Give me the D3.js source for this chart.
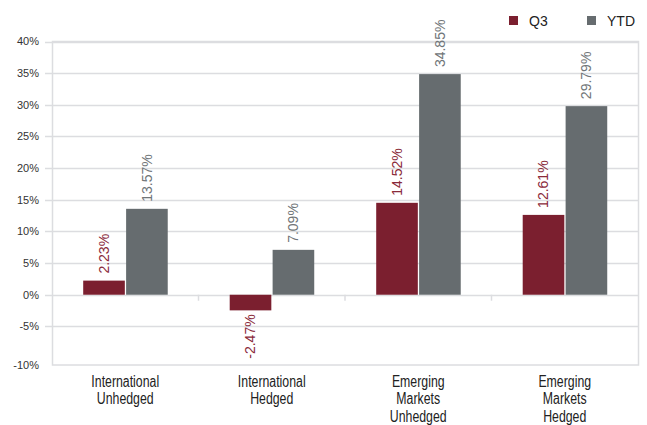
<!DOCTYPE html>
<html>
<head>
<meta charset="utf-8">
<script src="https://cdn.jsdelivr.net/npm/d3@7"></script>
<style>
  body { margin: 0; background: #fff; }
  text { font-family: "Liberation Sans", Arial, sans-serif; }
</style>
</head>
<body>
<div id="chart"></div>
<script>
// data
const categories = [
    ["International", "Unhedged"],
    ["International", "Hedged"],
    ["Emerging", "Markets", "Unhedged"],
    ["Emerging", "Markets", "Hedged"]
];
const series = ["Q3", "YTD"];
const q3Values = [2.23, -2.47, 14.52, 12.61];
const ytdValues = [13.57, 7.09, 34.85, 29.79];
const yTicks = [40, 35, 30, 25, 20, 15, 10, 5, 0, -5, -10];

const width = 647, height = 425;
const plot = { left: 52, right: 638, top: 41.5, bottom: 365 };
const colors = { Q3: "#7b1f2f", YTD: "#666c6f" };
const labelColors = { Q3: "#8a2a3a", YTD: "#707578" };
const gridColor = "#dcdde0";

const svg = d3.select("#chart")
    .append("svg")
    .attr("width", width)
    .attr("height", height);

const x0 = d3.scaleBand()
    .domain(categories.map((d, i) => i))
    .range([plot.left, plot.right]);

const bw = x0.bandwidth();
const x1 = d3.scaleBand()
    .domain(series)
    .range([bw * 0.213, bw * 0.79])
    .paddingInner(0.03);

const y = d3.scaleLinear()
    .domain([-11.1, 40])
    .range([plot.bottom, plot.top]);

// lowest label sits on the plot's bottom edge, like the original
const tickY = (d) => (d === d3.min(yTicks) ? plot.bottom : y(d));

// gridlines
svg.append("g")
    .selectAll("line")
    .data(yTicks.filter(d => d !== d3.min(yTicks)))
    .join("line")
    .attr("x1", plot.left - 7)
    .attr("x2", plot.right)
    .attr("y1", d => Math.round(y(d)) + 0.5)
    .attr("y2", d => Math.round(y(d)) + 0.5)
    .attr("stroke", gridColor)
    .attr("stroke-width", 1.5);

// plot border
svg.append("rect")
    .attr("x", plot.left + 0.5)
    .attr("y", plot.top)
    .attr("width", plot.right - plot.left)
    .attr("height", plot.bottom - plot.top)
    .attr("fill", "none")
    .attr("stroke", gridColor)
    .attr("stroke-width", 1.5);

// y tick labels
svg.append("g")
    .selectAll("text")
    .data(yTicks)
    .join("text")
    .attr("x", 39)
    .attr("y", d => tickY(d))
    .attr("dy", "0.35em")
    .attr("text-anchor", "end")
    .attr("font-size", 11)
    .attr("fill", "#333")
    .text(d => `${d}%`);

// category tick marks on the zero line
svg.append("g")
    .selectAll("line")
    .data(categories.map((d, i) => i).slice(1))
    .join("line")
    .attr("x1", d => x0(d))
    .attr("x2", d => x0(d))
    .attr("y1", y(0))
    .attr("y2", y(0) + 6)
    .attr("stroke", gridColor)
    .attr("stroke-width", 1.5);

const rows = categories.map((c, i) => ({ i, Q3: q3Values[i], YTD: ytdValues[i] }));

const groups = svg.append("g")
    .selectAll("g")
    .data(rows)
    .join("g")
    .attr("transform", d => `translate(${x0(d.i)},0)`);

groups.selectAll("rect")
    .data(d => series.map(key => ({ key, value: d[key] })))
    .join("rect")
    .attr("x", d => x1(d.key))
    .attr("width", x1.bandwidth())
    .attr("y", d => y(Math.max(0, d.value)))
    .attr("height", d => Math.abs(y(d.value) - y(0)))
    .attr("fill", d => colors[d.key]);

// rotated value labels
groups.selectAll("text")
    .data(d => series.map(key => ({ key, value: d[key] })))
    .join("text")
    .attr("transform", d => {
        const cx = x1(d.key) + x1.bandwidth() / 2;
        const cy = d.value >= 0 ? y(d.value) - 7 : y(d.value) + 4;
        return `translate(${cx},${cy}) rotate(-90)`;
    })
    .attr("dy", "0.35em")
    .attr("text-anchor", d => (d.value >= 0 ? "start" : "end"))
    .attr("font-size", 14)
    .attr("fill", d => labelColors[d.key])
    .text(d => `${d.value.toFixed(2)}%`);

// category labels (condensed look)
const catLabels = svg.append("g")
    .selectAll("text")
    .data(categories)
    .join("text")
    .attr("transform", (d, i) => `translate(${x0(i) + bw / 2},387) scale(0.77,1)`)
    .attr("text-anchor", "middle")
    .attr("font-size", 16)
    .attr("fill", "#222");

catLabels.selectAll("tspan")
    .data(d => d)
    .join("tspan")
    .attr("x", 0)
    .attr("dy", (d, i) => (i === 0 ? 0 : 17.5))
    .text(d => d);

// legend
const legend = svg.append("g")
    .selectAll("g")
    .data(series)
    .join("g")
    .attr("transform", (d, i) => `translate(${509 + i * 78},16)`);

legend.append("rect")
    .attr("width", 9)
    .attr("height", 9)
    .attr("fill", d => colors[d]);

legend.append("text")
    .attr("x", 20)
    .attr("y", 10)
    .attr("font-size", 14)
    .attr("fill", "#222")
    .text(d => d);
</script>
</body>
</html>
